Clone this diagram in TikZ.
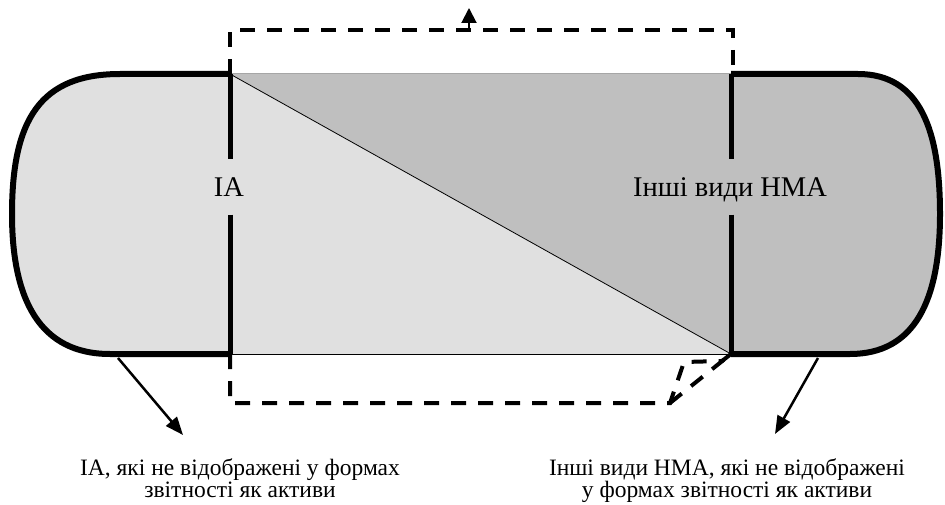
\documentclass[tikz,border=0pt]{standalone}
\usepackage{fontspec}
\setmainfont{Liberation Serif}
\usepackage{tikz}
\usetikzlibrary{positioning, arrows.meta, calc}
\definecolor{lightfill}{gray}{0.88}
\definecolor{darkfill}{gray}{0.75}

\begin{document}
\begin{tikzpicture}[
    x=1pt, y=-1pt,
    outline/.style={line width=6pt, line join=round},
    divider/.style={line width=5pt},
    dashbox/.style={line width=4pt, dash pattern=on 15pt off 12pt},
    pointer/.style={line width=2.5pt, -{Triangle[length=18pt, width=14pt]}},
    areatext/.style={font=\fontsize{28.5}{30}\selectfont, text height=19pt, text depth=0pt,
                     inner xsep=0pt, inner ysep=18pt},
    notetext/.style={font=\fontsize{23.5}{22}\selectfont, align=center, inner sep=0pt},
    >=Stealth
]
    \useasboundingbox (0,0) rectangle (945,505);

    % --- corners of the middle band ---
    \coordinate (lt) at (230,74);
    \coordinate (lb) at (230,354);
    \coordinate (rt) at (731,74);
    \coordinate (rb) at (731,354);

    % --- fills ---
    \fill[lightfill] (lt) -- (120,74) .. controls (40,74) and (12,120) .. (12,214)
        .. controls (12,300) and (40,354) .. (110,354) -- (lb) -- cycle;
    \fill[darkfill] (rt) -- (858,74) .. controls (920,74) and (940,130) .. (940,214)
        .. controls (940,300) and (915,354) .. (850,354) -- (rb) -- cycle;
    \fill[lightfill] (lt) -- (rb) -- (lb) -- cycle;
    \fill[darkfill] (lt) -- (rt) -- (rb) -- cycle;

    % --- thin edges of the band ---
    \draw[gray!70, line width=1pt] (lt) -- (rt);
    \draw[line width=1pt] (lb) -- (rb);
    \draw[line width=0.8pt] (lt) -- (rb);

    % --- outer caps ---
    \draw[outline] (lt) -- (120,74) .. controls (40,74) and (12,120) .. (12,214)
        .. controls (12,300) and (40,354) .. (110,354) -- (lb);
    \draw[outline] (rt) -- (858,74) .. controls (920,74) and (940,130) .. (940,214)
        .. controls (940,300) and (915,354) .. (850,354) -- (rb);

    % --- labels in the band ---
    \node[areatext] (ia) at (229,187) {ІА};
    \node[areatext] (oth) at (730,187) {Інші види НМА};

    \draw[divider] (lt) -- (ia.north -| lt);
    \draw[divider] (ia.south -| lb) -- (lb);
    \draw[divider] (rt) -- (oth.north -| rt);
    \draw[divider] (oth.south -| rb) -- (rb);

    % --- dashed frame ---
    \coordinate (dtl) at (230,30);
    \coordinate (dtr) at (733,30);
    \coordinate (dtrend) at (733,70);
    \coordinate (dbl) at (230,403);
    \coordinate (dbr) at (670,403);
    \coordinate (dfold) at (684,362);
    \coordinate (dfoldr) at (722,361);

    \draw[dashbox] (lt) -- (dtl) -- (dtr) -- (dtrend);
    \draw[dashbox] (lb) -- (dbl) -- (dbr) -- (dfold) -- (dfoldr) -- (rb);
    \draw[dashbox] (dbr) -- (rb);

    % up arrow on the frame
    \coordinate (upfoot) at (469,30);
    \coordinate (uptip) at (469,8);
    \draw[line width=2pt, -{Triangle[length=15pt, width=15pt]}] (upfoot) -- (uptip);

    % --- notes below ---
    \node[notetext, anchor=north] (lnote) at (240,458)
      {ІА, які не відображені у формах\\звітності як активи};
    \node[notetext, anchor=north] (rnote) at (727,458)
      {Інші види НМА, які не відображені\\у формах звітності як активи};

    \coordinate (lfoot) at (118,358);
    \coordinate (ltip) at (183,435);
    \coordinate (rfoot) at (818,358);
    \coordinate (rtip) at (775,434);
    \draw[pointer] (lfoot) -- (ltip);
    \draw[pointer] (rfoot) -- (rtip);

\end{tikzpicture}
\end{document}
